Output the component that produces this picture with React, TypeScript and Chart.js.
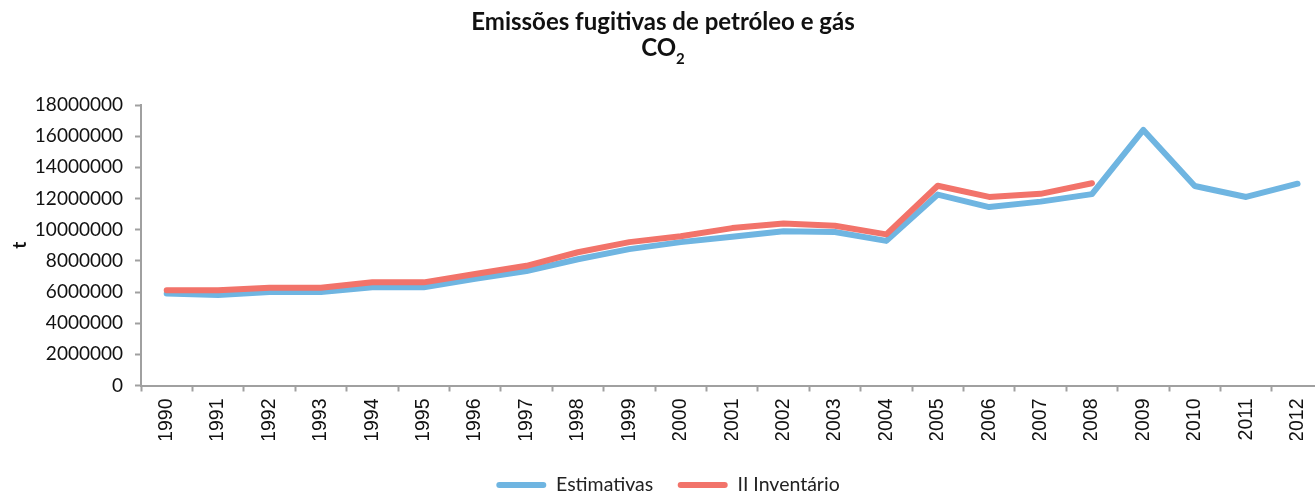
import React, { useEffect, useRef } from "react";
import { Chart, registerables } from "chart.js";

Chart.register(...registerables);

const years = [
  "1990", "1991", "1992", "1993", "1994", "1995", "1996", "1997", "1998", "1999",
  "2000", "2001", "2002", "2003", "2004", "2005", "2006", "2007", "2008", "2009",
  "2010", "2011", "2012",
];

const estimativas = [
  5900000, 5800000, 6000000, 6000000, 6300000, 6300000, 6850000, 7350000, 8100000, 8750000,
  9200000, 9550000, 9900000, 9850000, 9280000, 12250000, 11450000, 11800000, 12280000, 16400000,
  12800000, 12100000, 12950000,
];

const inventario = [
  6120000, 6120000, 6270000, 6270000, 6620000, 6620000, 7150000, 7680000, 8550000, 9200000,
  9580000, 10100000, 10400000, 10250000, 9700000, 12820000, 12100000, 12300000, 12980000, null,
  null, null, null,
];

const titleLine1 = "Emissões fugitivas de petróleo e gás";
const titleFormula = "CO";
const titleSubscript = "2";
const yAxisTitle = "t";
const seriesNames = ["Estimativas", "II Inventário"];
const yMin = 0;
const yMax = 18000000;
const yStep = 2000000;

const BLUE = "#6FB5E1";
const RED = "#F2736A";
const AXIS = "#a0a0a0";
const TITLE_SIZE = 24;
const TITLE_LH = 1.05;
const TITLE_PAD_TOP = 10;

const legendShift = {
  id: "legendShift",
  afterLayout(chart: any) {
    const l = chart.legend;
    if (l) {
      l.top += 10.75;
      l.bottom += 10.75;
      l.left += 5;
      l.right += 5;
    }
  },
};

const formulaTitle = {
  id: "formulaTitle",
  afterDraw(chart: any) {
    const ctx = chart.ctx;
    const tb = chart.titleBlock;
    if (!tb) return;
    const cx = (tb.left + tb.right) / 2;
    const lh = TITLE_SIZE * TITLE_LH;
    const midY = tb.top + TITLE_PAD_TOP + lh / 2 + lh;
    ctx.save();
    ctx.fillStyle = "#111";
    ctx.font = `bold ${TITLE_SIZE}px Lato`;
    const w1 = ctx.measureText(titleFormula).width;
    ctx.font = `bold 15px Lato`;
    const w2 = ctx.measureText(titleSubscript).width;
    const x0 = cx - (w1 + w2) / 2;
    ctx.font = `bold ${TITLE_SIZE}px Lato`;
    ctx.textAlign = "left";
    ctx.textBaseline = "middle";
    ctx.fillText(titleFormula, x0, midY);
    ctx.font = `bold 15px Lato`;
    ctx.textBaseline = "alphabetic";
    ctx.fillText(titleSubscript, x0 + w1, midY + 9.3 + 6.5);
    ctx.restore();
  },
};

export default function App() {
  const ref = useRef<HTMLCanvasElement | null>(null);

  useEffect(() => {
    if (!ref.current) return;
    const chart = new Chart(ref.current, {
      type: "line",
      data: {
        labels: years,
        datasets: [
          {
            label: seriesNames[0],
            data: estimativas,
            borderColor: BLUE,
            backgroundColor: BLUE,
            borderWidth: 6,
            pointRadius: 0,
            borderCapStyle: "round",
            borderJoinStyle: "round",
            tension: 0,
            order: 1,
          },
          {
            label: seriesNames[1],
            data: inventario,
            borderColor: RED,
            backgroundColor: RED,
            borderWidth: 6,
            pointRadius: 0,
            borderCapStyle: "round",
            borderJoinStyle: "round",
            tension: 0,
            spanGaps: false,
            order: 0,
          },
        ],
      },
      options: {
        animation: false,
        responsive: false,
        layout: { padding: { top: 0, left: 0, right: 2, bottom: 0 } },
        plugins: {
          title: {
            display: true,
            text: [titleLine1, ""],
            color: "#111",
            font: { family: "Lato", size: TITLE_SIZE, weight: "bold", lineHeight: TITLE_LH },
            padding: { top: TITLE_PAD_TOP, bottom: 105 - TITLE_PAD_TOP - 2 * TITLE_SIZE * TITLE_LH },
          },
          legend: {
            display: true,
            position: "bottom",
            labels: {
              color: "#222",
              font: { family: "Lato", size: 19.5 },
              boxWidth: 50,
              boxHeight: 6,
              padding: 24.5,
              useBorderRadius: true,
              borderRadius: 3,
              generateLabels: (c: any) =>
                c.data.datasets.map((ds: any, i: number) => ({
                  text: ds.label,
                  fillStyle: ds.borderColor,
                  strokeStyle: ds.borderColor,
                  lineWidth: 0,
                  hidden: false,
                  datasetIndex: i,
                  borderRadius: 3,
                  fontColor: "#222",
                })),
            },
          },
          tooltip: { enabled: false },
        },
        scales: {
          x: {
            type: "category",
            offset: true,
            grid: {
              display: true,
              offset: true,
              drawOnChartArea: false,
              drawTicks: true,
              tickLength: 6,
              tickWidth: 2,
              color: AXIS,
            },
            border: { display: true, color: AXIS, width: 2 },
            ticks: {
              color: "#111",
              font: { family: "Liberation Sans", size: 19.5 },
              minRotation: 90,
              maxRotation: 90,
              autoSkip: false,
              padding: 7,
            },
            afterFit: (s: any) => {
              s.height = 54.5;
            },
          },
          y: {
            min: yMin,
            max: yMax,
            grid: {
              display: true,
              drawOnChartArea: false,
              drawTicks: true,
              tickLength: 6,
              tickWidth: 2,
              color: AXIS,
            },
            border: { display: true, color: AXIS, width: 2 },
            ticks: {
              stepSize: yStep,
              color: "#111",
              font: { family: "Lato", size: 19 },
              padding: 12,
              callback: (v: any) => String(v),
            },
            title: {
              display: true,
              text: yAxisTitle,
              color: "#111",
              font: { family: "Lato", size: 19, weight: "bold", lineHeight: 1.2 },
              padding: { top: 8, bottom: 0 },
            },
            afterFit: (s: any) => {
              s.width = 141;
            },
          },
        },
      },
      plugins: [legendShift, formulaTitle],
    });
    return () => chart.destroy();
  }, []);

  return (
    <div
      style={{
        position: "fixed",
        left: 0,
        top: 0,
        width: 1315,
        height: 494,
        overflow: "hidden",
        background: "#fff",
      }}
    >
      <canvas ref={ref} width={1328} height={494} style={{ display: "block" }} />
    </div>
  );
}
